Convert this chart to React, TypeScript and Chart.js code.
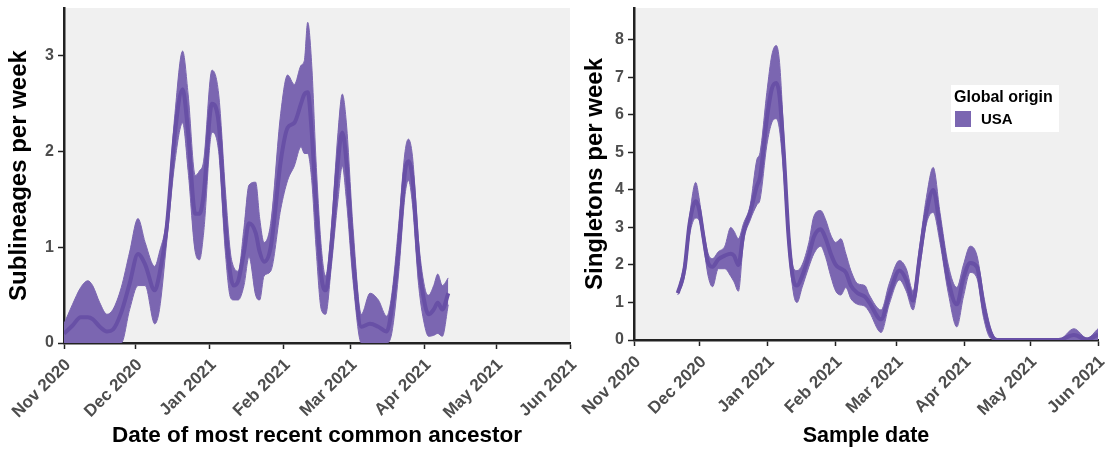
import React, { useEffect, useRef } from 'react';
import { Chart, registerables } from 'chart.js';

Chart.register(...registerables);

// Month ticks: days since 1 Nov 2020
const monthDays = [0, 30, 61, 92, 120, 151, 181, 212];
const monthLabels = ['Nov 2020', 'Dec 2020', 'Jan 2021', 'Feb 2021', 'Mar 2021', 'Apr 2021', 'May 2021', 'Jun 2021'];

// Left panel: sublineages per week (by date of MRCA)
const leftDays = [0, 3.5, 7, 10, 12, 15, 18, 20.5, 24, 27.5, 31, 34, 38, 40, 43, 46.5, 49.7, 52, 55, 56.8, 58.5, 62, 64.8, 67.6, 69.7, 71, 73, 75.4, 77.5, 80.3, 82, 83.8, 86.6, 90.8, 93.7, 96.5, 99.3, 100.7, 102.1, 103.8, 105.6, 107.8, 109.6, 112, 114.8, 116.6, 118.3, 121.1, 124.6, 128.2, 131.7, 135.2, 137.3, 140.1, 142.9, 144.3, 146, 148.6, 151.4, 152.8, 154.9, 156.6, 158.5, 161];
const leftLower = [0, 0, 0, 0, 0, 0, 0, 0, 0, 0.35, 0.6, 0.6, 0.2, 0.35, 1.05, 1.9, 2.3, 1.8, 0.95, 0.87, 1.15, 2.2, 2.0, 0.95, 0.48, 0.45, 0.45, 0.6, 0.9, 0.5, 0.45, 0.7, 0.75, 1.4, 1.7, 1.85, 2.05, 1.98, 1.98, 1.7, 1.0, 0.35, 0.3, 0.8, 1.5, 1.85, 1.5, 0.65, 0, 0, 0, 0, 0.1, 0.7, 1.55, 1.7, 1.45, 0.6, 0.15, 0.07, 0.08, 0.1, 0.07, 0.4];
const leftMean = [0.1, 0.18, 0.27, 0.27, 0.25, 0.17, 0.12, 0.14, 0.32, 0.62, 0.93, 0.82, 0.55, 0.72, 1.2, 2.2, 2.65, 2.2, 1.35, 1.35, 1.55, 2.5, 2.3, 1.25, 0.72, 0.6, 0.65, 0.95, 1.25, 1.15, 0.95, 0.85, 1.0, 1.9, 2.25, 2.3, 2.5, 2.6, 2.62, 2.2, 1.45, 0.7, 0.55, 1.0, 1.9, 2.2, 1.9, 0.9, 0.17, 0.2, 0.17, 0.12, 0.35, 0.95, 1.8, 1.9, 1.72, 0.85, 0.38, 0.3, 0.35, 0.42, 0.35, 0.52];
const leftUpper = [0.2, 0.4, 0.58, 0.65, 0.6, 0.42, 0.3, 0.35, 0.58, 0.95, 1.3, 1.05, 0.8, 0.95, 1.3, 2.4, 3.05, 2.6, 1.75, 1.8, 1.9, 2.85, 2.6, 1.6, 0.95, 0.8, 0.75, 1.2, 1.65, 1.68, 1.3, 1.05, 1.25, 2.4, 2.8, 2.7, 2.9, 2.95, 3.35, 2.9, 1.9, 1.0, 0.7, 1.2, 2.2, 2.6, 2.3, 1.2, 0.3, 0.52, 0.45, 0.28, 0.5, 1.2, 2.0, 2.13, 1.95, 1.05, 0.55, 0.5, 0.6, 0.72, 0.6, 0.68];

// Right panel: singletons per week (by sample date)
const rightDays = [20, 23.1, 25.4, 28.2, 29.7, 31.6, 33.9, 35.9, 38.5, 41.5, 44.2, 45.7, 47.7, 50, 53.1, 56.1, 57.6, 60.7, 63, 65, 66.5, 68.4, 70.7, 73, 74.5, 76.8, 79.9, 82.2, 85.3, 87.6, 89.9, 92.2, 94.5, 96.8, 99.1, 102.2, 105.5, 107.5, 112.9, 116.6, 121.3, 124.4, 127.5, 130.5, 133.6, 136.7, 139.8, 143.6, 147.5, 150.5, 153.6, 156.7, 159.7, 162.8, 165.9, 194, 201, 207, 212];
const rightLower = [1.2, 1.7, 2.8, 3.25, 3.2, 2.6, 1.7, 1.42, 1.9, 1.9, 1.7, 1.55, 1.3, 2.6, 3.2, 3.6, 3.75, 5.2, 5.8, 5.9, 5.6, 4.4, 2.4, 1.2, 1.0, 1.4, 1.95, 2.3, 2.5, 2.2, 1.7, 1.3, 1.2, 1.4, 1.1, 0.95, 0.9, 0.75, 0.2, 0.95, 1.6, 1.3, 0.8, 1.9, 3.1, 3.4, 2.6, 1.25, 0.35, 1.15, 1.8, 1.65, 0.6, 0.05, 0, 0, 0, 0, 0];
const rightMean = [1.25, 1.9, 3.1, 3.7, 3.5, 2.8, 2.05, 1.95, 2.15, 2.25, 2.3, 2.25, 2.0, 2.85, 3.4, 4.1, 4.35, 5.9, 6.7, 6.85, 6.5, 5.0, 2.7, 1.55, 1.45, 1.7, 2.25, 2.75, 2.95, 2.7, 2.3, 2.0, 1.9, 1.8, 1.45, 1.25, 1.15, 1.0, 0.55, 1.2, 1.85, 1.6, 1.05, 2.2, 3.4, 4.0, 3.0, 1.6, 0.95, 1.65, 2.05, 1.95, 0.9, 0.2, 0, 0, 0.13, 0.01, 0.15];
const rightUpper = [1.3, 2.1, 3.3, 4.2, 3.8, 3.0, 2.3, 2.17, 2.35, 2.5, 3.0, 2.9, 2.7, 3.1, 3.6, 4.8, 5.0, 6.6, 7.6, 7.85, 7.4, 5.5, 3.0, 1.9, 1.85, 2.0, 2.6, 3.3, 3.45, 3.2, 2.8, 2.6, 2.7, 2.3, 1.85, 1.5, 1.45, 1.2, 0.8, 1.5, 2.12, 1.9, 1.3, 2.5, 3.8, 4.6, 3.4, 2.0, 1.4, 2.0, 2.5, 2.25, 1.2, 0.35, 0.02, 0, 0.3, 0.05, 0.3];

const leftYTitle = 'Sublineages per week';
const leftXTitle = 'Date of most recent common ancestor';
const rightYTitle = 'Singletons per week';
const rightXTitle = 'Sample date';
const legendTitle = 'Global origin';
const legendLabel = 'USA';

const FONT = "'Liberation Sans', Arial, sans-serif";
const BAND = 'rgb(123,102,177)';
const LINE = 'rgb(104,80,166)';

const bgPlugin = {
  id: 'panelBg',
  beforeDraw(chart: any) {
    const { ctx, chartArea } = chart;
    ctx.save();
    ctx.fillStyle = '#f0f0f0';
    ctx.fillRect(chartArea.left, chartArea.top, chartArea.right - chartArea.left, chartArea.bottom - chartArea.top);
    ctx.restore();
  },
};

const legendPlugin = {
  id: 'boxLegend',
  afterDraw(chart: any) {
    const opts = chart.options.plugins.boxLegend;
    if (!opts || !opts.show) return;
    const { ctx } = chart;
    const x = opts.x;
    const y = opts.y;
    ctx.save();
    ctx.fillStyle = '#ffffff';
    ctx.fillRect(x, y, 108, 47);
    ctx.fillStyle = '#000000';
    ctx.font = `bold 16px ${FONT}`;
    ctx.textBaseline = 'alphabetic';
    ctx.textAlign = 'left';
    ctx.fillText(opts.title, x + 3, y + 16.5);
    ctx.fillStyle = BAND;
    ctx.fillRect(x + 4, y + 26, 16, 16);
    ctx.fillStyle = '#000000';
    ctx.font = `bold 15px ${FONT}`;
    ctx.textBaseline = 'middle';
    ctx.fillText(opts.label, x + 30, y + 35);
    ctx.restore();
  },
};

type PanelProps = {
  days: number[];
  lower: number[];
  mean: number[];
  upper: number[];
  yMax: number;
  yTitle: string;
  xTitle: string;
  width: number;
  yWidth: number;
  xHeight: number;
  padRight: number;
  yTitlePad: number;
  xTitleSize: number;
  legend?: { title: string; label: string; x: number; y: number };
};

function Panel(p: PanelProps) {
  const ref = useRef<HTMLCanvasElement>(null);
  useEffect(() => {
    if (!ref.current) return;
    const pts = (vals: number[]) => p.days.map((d, i) => ({ x: d, y: vals[i] }));
    const yTickFont = { family: FONT, size: 16, weight: 'bold' as const };
    const xTickFont = { family: FONT, size: 17, weight: 'bold' as const };
    const chart = new Chart(ref.current, {
      type: 'line',
      data: {
        datasets: [
          {
            label: 'mean',
            data: pts(p.mean),
            borderColor: LINE,
            borderWidth: 4,
            pointRadius: 0,
            fill: false,
            cubicInterpolationMode: 'monotone',
          },
          {
            label: 'lower',
            data: pts(p.lower),
            borderColor: BAND,
            borderWidth: 1,
            pointRadius: 0,
            fill: false,
            cubicInterpolationMode: 'monotone',
          },
          {
            label: 'upper',
            data: pts(p.upper),
            borderColor: BAND,
            backgroundColor: BAND,
            borderWidth: 1,
            pointRadius: 0,
            fill: '-1',
            cubicInterpolationMode: 'monotone',
          },
        ],
      },
      options: {
        animation: false,
        responsive: false,
        events: [],
        layout: { padding: { top: 8, right: p.padRight, left: 0, bottom: 0 } },
        plugins: {
          legend: { display: false },
          tooltip: { enabled: false },
          boxLegend: p.legend ? { show: true, ...p.legend } : { show: false },
        } as any,
        scales: {
          x: {
            type: 'linear',
            min: 0,
            max: 212,
            afterBuildTicks: (scale: any) => {
              scale.ticks = monthDays.map((v) => ({ value: v }));
            },
            afterFit: (scale: any) => {
              scale.height = p.xHeight;
              scale.paddingLeft = 0;
              scale.paddingRight = 0;
            },
            ticks: {
              autoSkip: false,
              minRotation: 45,
              maxRotation: 45,
              padding: 6,
              labelOffset: 4,
              color: '#4d4d4d',
              font: xTickFont,
              callback: (v: any) => monthLabels[monthDays.indexOf(Number(v))] ?? '',
            },
            grid: {
              display: true,
              drawOnChartArea: false,
              drawTicks: true,
              tickLength: 6,
              tickColor: '#222',
              tickWidth: 1.5,
            },
            border: { display: true, color: '#222', width: 2.5 },
            title: {
              display: true,
              text: p.xTitle,
              color: '#000',
              font: { family: FONT, size: p.xTitleSize, weight: 'bold' },
              padding: { top: 0, bottom: 2 },
            },
          },
          y: {
            type: 'linear',
            min: 0,
            max: p.yMax,
            afterFit: (scale: any) => {
              scale.width = p.yWidth;
              scale.paddingTop = 0;
              scale.paddingBottom = 0;
            },
            ticks: {
              stepSize: 1,
              includeBounds: false,
              padding: 4,
              color: '#4d4d4d',
              font: yTickFont,
            },
            grid: {
              display: true,
              drawOnChartArea: false,
              drawTicks: true,
              tickLength: 6,
              tickColor: '#222',
              tickWidth: 1.5,
            },
            border: { display: true, color: '#222', width: 2.5 },
            title: {
              display: true,
              text: p.yTitle,
              color: '#000',
              font: { family: FONT, size: 24, weight: 'bold' },
              padding: { top: p.yTitlePad, bottom: 0 },
            },
          },
        },
      },
      plugins: [bgPlugin, legendPlugin],
    } as any);
    return () => chart.destroy();
  }, []);
  return <canvas ref={ref} width={p.width} height={451} style={{ display: 'block' }} />;
}

export default function App() {
  return (
    <div
      style={{
        position: 'absolute',
        left: 0,
        top: 0,
        width: 1106,
        height: 451,
        background: '#ffffff',
        display: 'flex',
      }}
    >
      <Panel
        days={leftDays}
        lower={leftLower}
        mean={leftMean}
        upper={leftUpper}
        yMax={3.5}
        yTitle={leftYTitle}
        xTitle={leftXTitle}
        width={580}
        yWidth={64}
        xHeight={108}
        padRight={10}
        yTitlePad={5}
        xTitleSize={22.5}
      />
      <Panel
        days={rightDays}
        lower={rightLower}
        mean={rightMean}
        upper={rightUpper}
        yMax={8.85}
        yTitle={rightYTitle}
        xTitle={rightXTitle}
        width={526}
        yWidth={54}
        xHeight={111}
        padRight={8}
        yTitlePad={1}
        xTitleSize={21.5}
        legend={{ title: legendTitle, label: legendLabel, x: 371, y: 85 }}
      />
    </div>
  );
}
